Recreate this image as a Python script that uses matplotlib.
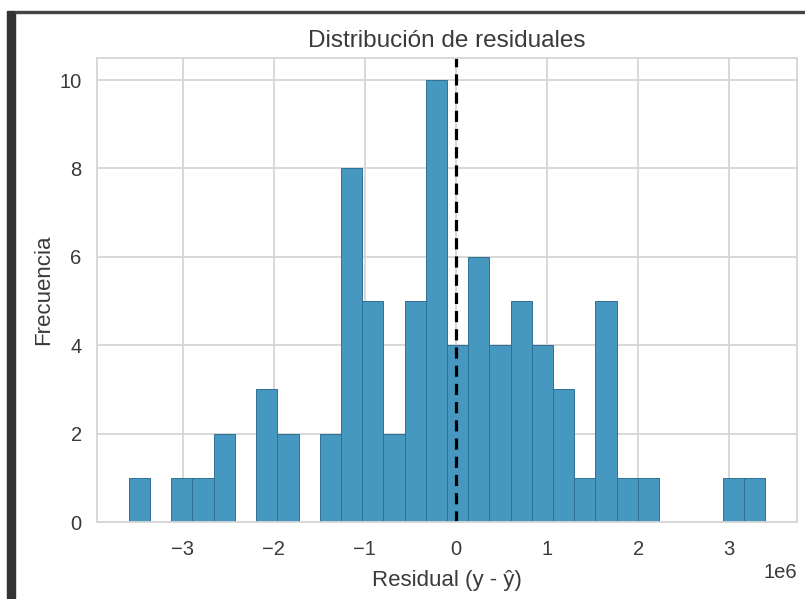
import numpy as np
import matplotlib.pyplot as plt
from matplotlib.patches import Rectangle

# -------------------------------------------------------------
# Data (30 bins)
# -------------------------------------------------------------
bin_lo = -3.593e6
bin_hi = 3.396e6
n_bins = 30
counts = [1, 0, 1, 1, 2, 0, 3, 2, 0, 2,
          8, 5, 2, 5, 10, 4, 6, 4, 5, 4,
          3, 1, 5, 1, 1, 0, 0, 0, 1, 1]

title = 'Distribución de residuales'
xlabel = 'Residual (y - ŷ)'
ylabel = 'Frecuencia'

plt.style.use('seaborn-v0_8-whitegrid')
plt.rcParams['font.family'] = ['Liberation Sans', 'DejaVu Sans']

fig = plt.figure(figsize=(8.05, 5.99), dpi=100)
ax = fig.add_axes([97 / 805, 1 - 522 / 599, 700 / 805, 464 / 599])

edges = np.linspace(bin_lo, bin_hi, n_bins + 1)
widths = np.diff(edges)
ax.bar(edges[:-1], counts, width=widths, align='edge',
       color='#4698c0', edgecolor='#2f7193', linewidth=0.7)
ax.axvline(0, color='black', linestyle='--', linewidth=2.3, dashes=(3.5, 2.2))

ax.set_ylim(0, 10.5)
ax.set_yticks([0, 2, 4, 6, 8, 10])
ax.set_title(title, fontsize=17.5, color='#3a3a3a', pad=8)
ax.set_xlabel(xlabel, fontsize=16, color='#3a3a3a', labelpad=8)
ax.set_ylabel(ylabel, fontsize=16, color='#3a3a3a', labelpad=4)
ax.tick_params(axis='x', labelsize=14.5, colors='#3a3a3a', pad=13)
ax.tick_params(axis='y', labelsize=14.5, colors='#3a3a3a', pad=11)
ax.xaxis.get_offset_text().set_fontsize(14.5)
ax.grid(True, color='#d5d5d5', linewidth=1.3)
for sp in ax.spines.values():
    sp.set_color('#d5d5d5')
    sp.set_linewidth(1.3)

# screenshot frame: dark bar on the left, thin line along the top
fig.patches.append(Rectangle((7 / 805, 0), 8 / 805, 1 - 11 / 599,
                             transform=fig.transFigure, color='#333333'))
fig.patches.append(Rectangle((15 / 805, 1 - 13 / 599), 790 / 805, 2 / 599,
                             transform=fig.transFigure, color='#444444'))

fig.savefig('out.png', dpi=100)
